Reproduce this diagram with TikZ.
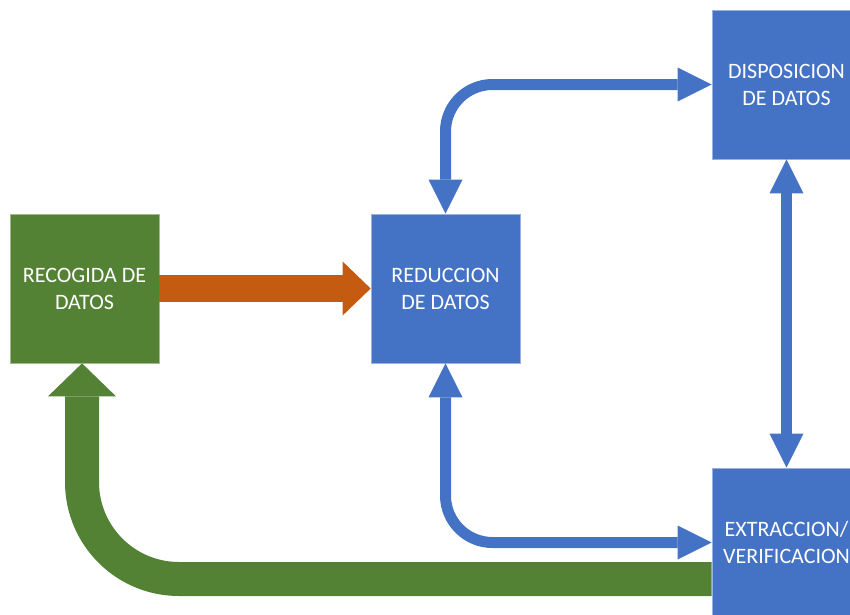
\documentclass[tikz,border=0pt]{standalone}
\usepackage{fontspec}
\setmainfont{Carlito}
\usetikzlibrary{arrows.meta}

\definecolor{verde}{HTML}{548235}
\definecolor{azul}{HTML}{4472C4}
\definecolor{naranja}{HTML}{C55A11}

\tikzset{
    caja/.style={minimum width=149pt, minimum height=149pt, inner sep=0pt, align=center,
        text=white, font=\fontsize{22}{27}\selectfont, fill=#1, draw=#1!55!white, line width=0.7pt},
    flecha/.style={azul, line width=11pt,
        {Triangle[length=34pt,width=34pt,line width=0pt]}-{Triangle[length=34pt,width=34pt,line width=0pt]}},
    avance/.style={naranja, line width=27pt, -{Triangle[length=28pt,width=54pt,line width=0pt]}},
    retorno/.style={verde, line width=34pt, rounded corners=97pt, -{Triangle[length=33pt,width=68pt,line width=0pt]}},
}

\begin{document}
\begin{tikzpicture}[x=1pt,y=-1pt]

    \useasboundingbox (0,0) rectangle (850,614);
    \clip (0,0) rectangle (850,614);

    % Boxes
    \node[caja=verde] (recogida) at (84.5,288.5) {RECOGIDA DE\\DATOS};
    \node[caja=azul] (reduccion) at (445.5,288.5) {REDUCCION\\DE DATOS};
    \node[caja=azul] (disposicion) at (786.5,84.5) {DISPOSICION\\DE DATOS};
    \node[caja=azul] (extraccion) at (786.5,542.5) {EXTRACCION/\\VERIFICACION};

    % Forward arrow
    \draw[avance] (recogida.east) -- (reduccion.west);

    % Two-way arrows
    \draw[flecha, rounded corners=47pt] (reduccion.north) -- (reduccion.north |- disposicion.west) -- (disposicion.west);
    \draw[flecha, rounded corners=47pt] (reduccion.south) -- (reduccion.south |- extraccion.west) -- (extraccion.west);
    \draw[flecha] (disposicion.south) -- (extraccion.north);

    % Return arrow
    \coordinate (salida) at ([yshift=-36.5pt]extraccion.west);
    \coordinate (llegada) at ([xshift=-2.5pt]recogida.south);
    \draw[retorno] (salida) -- (llegada |- salida) -- (llegada);

\end{tikzpicture}
\end{document}
